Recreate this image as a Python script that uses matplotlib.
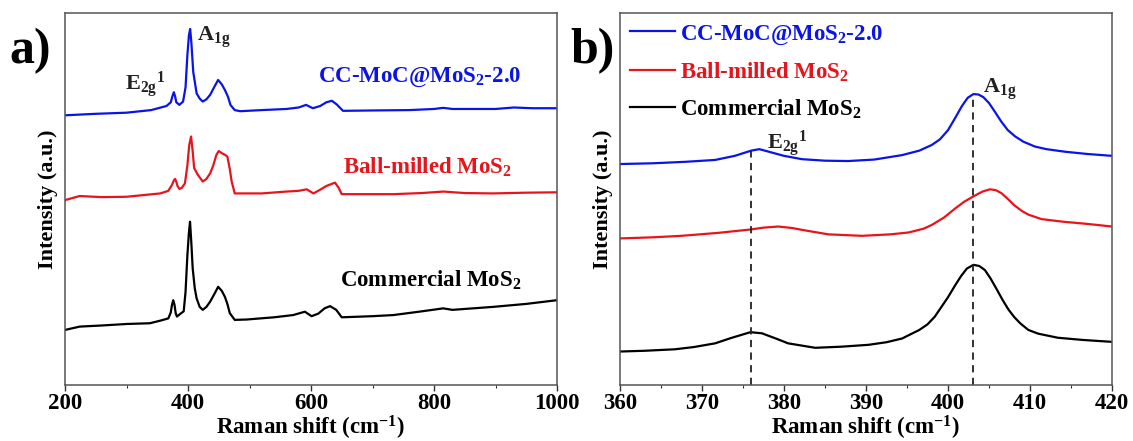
import matplotlib
matplotlib.use("Agg")
import matplotlib.pyplot as plt
from matplotlib.ticker import MultipleLocator

plt.rcParams['font.family'] = ['Liberation Serif', 'DejaVu Serif']
plt.rcParams['font.weight'] = 'bold'
plt.rcParams['mathtext.fontset'] = 'custom'
plt.rcParams['mathtext.rm'] = 'Liberation Serif:bold'
plt.rcParams['mathtext.it'] = 'Liberation Serif:bold'
plt.rcParams['mathtext.bf'] = 'Liberation Serif:bold'

# ---------------- data: panel a (full range) ----------------
blue_a_x = [200, 250, 300, 340, 365, 372, 375, 377, 379, 381, 386, 392, 396, 399, 401.5, 403.5, 405.5, 408.5,
            414, 419, 424, 430, 436, 443, 449, 455, 460, 465, 469, 476, 485, 520, 560, 580, 592,
            603, 615, 625, 634, 642, 652, 700, 760, 800, 815, 830, 900, 930, 960, 1000]
blue_a_y = [72.5, 72.9, 73.2, 73.9, 75.0, 76.0, 77.8, 78.7, 77.6, 76.0, 75.3, 76.2, 80.0, 88.7, 94.0, 95.7, 92.0, 84.2,
            78.4, 77.0, 76.2, 76.8, 78.0, 80.2, 82.0, 80.8, 79.3, 77.5, 75.3, 73.9, 73.6, 73.9, 74.2, 74.6, 75.3,
            74.4, 75.0, 76.0, 76.4, 75.4, 73.7, 73.8, 73.9, 74.2, 74.5, 74.2, 74.2, 74.6, 74.4, 74.4]

red_a_x = [200, 224, 260, 300, 355, 368, 374, 377, 379, 381, 383, 386, 390, 395, 399, 402, 405, 407.5, 410,
           416, 424, 430, 436, 441, 446, 450, 455, 460, 464, 468, 471, 476, 485, 520, 560, 580, 593,
           604, 615, 625, 639, 645, 650, 700, 734, 780, 815, 850, 896, 950, 1000]
red_a_y = [49.7, 50.8, 50.5, 50.6, 51.5, 52.2, 53.8, 55.0, 55.4, 54.6, 53.5, 52.7, 53.0, 54.2, 59.0, 64.5, 66.8, 63.0, 58.3,
           56.5, 54.7, 55.4, 56.9, 59.0, 61.8, 62.9, 62.3, 61.9, 61.4, 58.0, 54.7, 51.5, 51.5, 51.5, 52.0, 52.2, 52.6,
           51.5, 52.5, 53.5, 54.4, 53.0, 51.3, 51.3, 51.3, 51.6, 52.0, 51.6, 51.5, 51.7, 51.8]

black_a_x = [200, 224, 260, 300, 338, 355, 368, 372, 374, 376, 378, 380, 382, 388, 393, 396, 399, 401.5, 403.3,
             405.5, 407.6, 411, 414, 419, 424, 430, 436, 443, 449, 455, 460, 464, 468, 476, 495, 540,
             571, 590, 601, 612, 622, 631, 641, 650, 700, 734, 780, 815, 830, 896, 950, 1000]
black_a_y = [14.8, 15.7, 16.0, 16.4, 16.6, 17.3, 17.9, 19.5, 21.6, 22.8, 21.6, 19.3, 18.4, 19.2, 19.8, 25.0, 34.9, 41.0, 43.9,
             38.0, 31.4, 26.0, 23.3, 21.0, 20.2, 21.0, 22.4, 24.5, 26.4, 25.3, 23.7, 21.8, 19.3, 17.5, 17.6, 18.2,
             18.8, 19.7, 18.5, 19.2, 20.6, 21.2, 20.2, 18.2, 18.5, 18.8, 19.8, 20.6, 20.2, 21.0, 21.8, 22.8]

# ---------------- data: panel b (zoom 360-420) ----------------
blue_b_x = [360, 364, 368, 371.6, 374, 376, 377, 378.5, 380, 382.2, 385, 387.8, 391, 394.4, 396.5, 398,
            399, 400, 400.8, 401.7, 402.4, 403.1, 403.7, 404.3, 405, 405.7, 406.5, 407.3, 408.2, 409.2,
            410.6, 412, 414.3, 417, 420]
blue_b_y = [59.4, 59.6, 60.0, 60.5, 61.6, 63.0, 63.4, 62.5, 61.6, 60.7, 60.3, 60.2, 60.6, 61.8, 63.0, 64.5,
            66.0, 68.5, 71.5, 75.0, 77.2, 78.2, 78.1, 77.4, 75.8, 73.5, 70.8, 68.5, 66.8, 65.4,
            64.1, 63.4, 62.7, 62.1, 61.6]

red_b_x = [360, 364, 367.5, 372, 375.9, 377.5, 379.3, 381, 382.2, 385.4, 389.5, 393, 395.2, 397, 398,
           399.5, 400.9, 402, 403.1, 404.2, 405.1, 405.8, 406.5, 407.3, 408.1, 409, 409.8, 411.4,
           414, 417, 420]
red_b_y = [39.4, 39.7, 40.1, 40.9, 41.8, 42.3, 42.6, 42.2, 41.7, 40.5, 40.1, 40.5, 41.0, 42.0, 43.0,
           45.0, 47.5, 49.3, 50.7, 52.0, 52.6, 52.4, 51.6, 50.0, 48.3, 46.8, 45.8, 44.6,
           43.9, 43.3, 42.6]

black_b_x = [360, 363, 366.7, 369, 371.6, 373.5, 375.9, 377.3, 379, 380.5, 383.8, 387, 390.3, 392.5,
             394.4, 396.5, 397.5, 398.4, 399.2, 400, 400.9, 401.6, 402.3, 403.1, 403.8, 404.5, 405.2,
             406, 406.7, 407.4, 408.1, 408.8, 409.8, 411, 413.4, 416.5, 420]
black_b_y = [9.0, 9.2, 9.6, 10.2, 11.2, 12.6, 14.2, 13.9, 12.5, 11.2, 10.0, 10.3, 10.8, 11.5,
             12.5, 14.8, 16.3, 18.4, 21.0, 23.6, 26.9, 29.3, 31.3, 32.3, 32.0, 30.9, 28.6,
             25.5, 22.7, 20.2, 18.2, 16.6, 14.8, 13.8, 12.7, 12.1, 11.6]

peak_pos = [376.0, 403.1]
peak_top = [63.0, 78.2]

labels = ['CC-MoC@MoS$_2$-2.0', 'Ball-milled MoS$_2$', 'Commercial MoS$_2$']
colors = ['#0a14e6', '#e8141c', '#000000']

W, H = 1133, 441
fig = plt.figure(figsize=(W / 100, H / 100), dpi=100)
axa = fig.add_axes([65 / W, (H - 385) / H, 492 / W, 372 / H])
axb = fig.add_axes([620 / W, (H - 385) / H, 492 / W, 372 / H])

lw = 1.6
for ax in (axa, axb):
    ax.set_ylim(0, 100)
    ax.set_yticks([])
    for s in ax.spines.values():
        s.set_color('#555555')
        s.set_linewidth(1.1)
    ax.tick_params(axis='x', which='major', direction='out', length=4, width=1, colors='#333333',
                   labelsize=16.5, labelcolor='black', pad=2)
    ax.tick_params(axis='x', which='minor', direction='out', length=2.5, width=0.8, colors='#333333')
    ax.set_xlabel('Raman shift (cm$^{-1}$)', fontsize=16.5, fontweight='bold', labelpad=0)
    ax.set_ylabel('Intensity (a.u.)', fontsize=16, fontweight='bold', labelpad=5)

# panel a
axa.plot(blue_a_x, blue_a_y, color=colors[0], lw=lw)
axa.plot(red_a_x, red_a_y, color=colors[1], lw=lw)
axa.plot(black_a_x, black_a_y, color=colors[2], lw=lw)
axa.set_xlim(200, 1000)
axa.xaxis.set_major_locator(MultipleLocator(200))
axa.xaxis.set_minor_locator(MultipleLocator(100))
axa.text(298, 79.3, 'E$_{2g}$$^{1}$', fontsize=16, color='#222222')
axa.text(415, 92.6, 'A$_{1g}$', fontsize=16, color='#222222')
axa.text(611, 81.5, labels[0], fontsize=16.5, color=colors[0])
axa.text(652, 56.9, labels[1], fontsize=16.5, color=colors[1])
axa.text(647, 26.3, labels[2], fontsize=16.5, color=colors[2])

# panel b
axb.plot(blue_b_x, blue_b_y, color=colors[0], lw=lw, label=labels[0])
axb.plot(red_b_x, red_b_y, color=colors[1], lw=lw, label=labels[1])
axb.plot(black_b_x, black_b_y, color=colors[2], lw=lw, label=labels[2])
axb.vlines(peak_pos, 0, peak_top, colors='#222222', linestyles=(0, (4, 3)), lw=1.3)
axb.set_xlim(360, 420)
axb.xaxis.set_major_locator(MultipleLocator(10))
axb.xaxis.set_minor_locator(MultipleLocator(5))
axb.text(377.9, 63.4, 'E$_{2g}$$^{1}$', fontsize=16, color='#222222')
axb.text(404.3, 78.5, 'A$_{1g}$', fontsize=16, color='#222222')
axb.legend(loc='upper left', frameon=False, fontsize=16.5, labelcolor='linecolor',
           handlelength=1.95, handletextpad=0.2, borderpad=0, borderaxespad=0.45,
           labelspacing=0.6)

fig.text(9 / W, (H - 63) / H, 'a)', fontsize=36, fontweight='bold')
fig.text(570 / W, (H - 63) / H, 'b)', fontsize=36, fontweight='bold')

fig.savefig('out.png', dpi=100)
